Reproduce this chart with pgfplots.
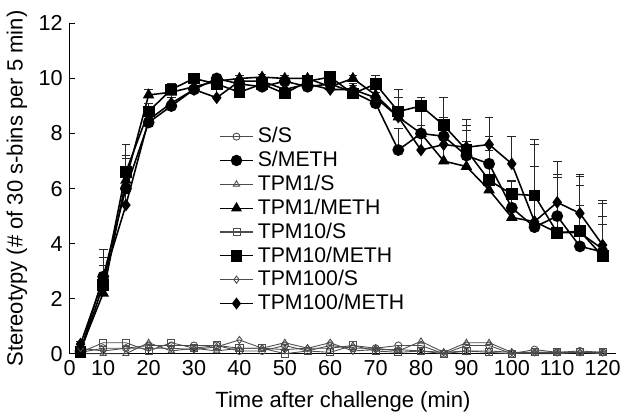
\documentclass[border=0pt]{standalone}
\usepackage{fontspec}
\setmainfont{Liberation Sans}
\usepackage{pgfplots}
\pgfplotsset{compat=1.18}
\usepackage{pgfplotstable}

% saline challenge groups (t, mean)
\pgfplotstableread{
t y
5 0.05
10 0.2
15 0.2
20 0.3
25 0.3
30 0.3
35 0.3
40 0.1
45 0.1
50 0.3
55 0.1
60 0.3
65 0.2
70 0.2
75 0.3
80 0.3
85 0.0
90 0.3
95 0.3
100 0.0
105 0.15
110 0.05
115 0.1
120 0.05
}\SS
\pgfplotstableread{
t y
5 0.0
10 0.0
15 0.0
20 0.4
25 0.1
30 0.2
35 0.1
40 0.2
45 0.2
50 0.4
55 0.2
60 0.2
65 0.3
70 0.2
75 0.1
80 0.45
85 0.05
90 0.4
95 0.4
100 0.05
105 0.0
110 0.0
115 0.05
120 0.0
}\TaS
\pgfplotstableread{
t y
5 0.05
10 0.4
15 0.4
20 0.1
25 0.4
30 0.2
35 0.3
40 0.2
45 0.2
50 0.0
55 0.1
60 0.05
65 0.3
70 0.1
75 0.05
80 0.1
85 0.0
90 0.1
95 0.05
100 0.0
105 0.05
110 0.05
115 0.05
120 0.05
}\TbS
\pgfplotstableread{
t y
5 0.2
10 0.1
15 0.2
20 0.2
25 0.2
30 0.15
35 0.25
40 0.5
45 0.2
50 0.15
55 0.2
60 0.4
65 0.1
70 0.15
75 0.15
80 0.1
85 0.05
90 0.1
95 0.1
100 0.05
105 0.05
110 0.05
115 0.05
120 0.05
}\TcS

% METH challenge groups (t, mean, +SEM)
\pgfplotstableread{
t y e
5 0.1 0.1
10 2.8 1.0
15 6.0 1.1
20 8.4 0.3
25 9.0 0.3
30 9.6 0.2
35 10.0 0.1
40 9.8 0.2
45 9.7 0.2
50 9.9 0.1
55 9.7 0.2
60 9.8 0.2
65 9.5 0.3
70 9.1 0.4
75 7.4 0.8
80 8.0 0.8
85 7.9 0.7
90 7.2 0.9
95 6.9 1.0
100 5.3 1.0
105 4.6 2.2
110 5.0 1.5
115 3.9 2.2
120 3.7 1.3
}\SM
\pgfplotstableread{
t y e
5 0.15 0.1
10 2.2 1.0
15 6.3 0.9
20 9.4 0.2
25 9.5 0.2
30 9.7 0.2
35 9.9 0.1
40 10.0 0.1
45 10.05 0.1
50 10.0 0.1
55 10.0 0.1
60 9.7 0.2
65 10.0 0.1
70 9.4 0.4
75 8.6 0.7
80 8.0 0.9
85 7.0 0.9
90 6.8 0.9
95 5.95 0.9
100 4.95 1.3
105 4.8 1.0
110 4.4 1.1
115 4.4 1.0
120 3.8 0.9
}\TaM
\pgfplotstableread{
t y e
5 0.05 0.1
10 2.5 0.7
15 6.6 1.0
20 8.8 0.3
25 9.6 0.2
30 10.0 0.1
35 9.8 0.2
40 9.5 0.2
45 9.8 0.2
50 9.45 0.2
55 9.9 0.1
60 10.05 0.1
65 9.45 0.3
70 9.8 0.3
75 8.8 0.8
80 9.0 0.3
85 8.3 1.0
90 7.4 0.9
95 6.3 1.07
100 5.8 0.5
105 5.75 2.05
110 4.4 2.0
115 4.45 2.0
120 3.55 1.9
}\TbM
\pgfplotstableread{
t y e
5 0.35 0.1
10 2.7 0.8
15 5.4 1.2
20 8.5 0.3
25 9.1 0.3
30 9.6 0.2
35 9.3 0.3
40 9.9 0.1
45 9.9 0.1
50 9.6 0.2
55 9.8 0.2
60 9.6 0.2
65 9.6 0.2
70 9.3 0.4
75 8.6 0.7
80 7.4 0.9
85 7.6 0.8
90 7.5 1.0
95 7.6 1.0
100 6.9 1.0
105 4.8 2.8
110 5.5 1.5
115 5.1 1.4
120 3.95 1.6
}\TcM

\begin{document}
\begin{tikzpicture}
\begin{axis}[
  scale only axis,
  width=278pt, height=168pt,
  xmin=2.6, xmax=123, ymin=0, ymax=12,
  axis x line*=bottom, axis y line*=left,
  axis line style={line width=0.7pt},
  xtick={2.6,10,20,30,40,50,60,70,80,90,100,110,120},
  xticklabels={0,10,20,30,40,50,60,70,80,90,100,110,120},
  ytick={0,2,4,6,8,10,12},
  tick align=inside, major tick length=2.8pt,
  tick style={line width=0.6pt, black},
  /pgf/number format/assume math mode=true,
  tick label style={font=\fontsize{11}{13}\selectfont},
  label style={font=\fontsize{11.2}{13}\selectfont},
  xlabel={Time after challenge (min)},
  ylabel={Stereotypy (\# of 30 s-bins per 5 min)},
  xlabel style={yshift=-1pt},
  ylabel style={yshift=-1pt},
  clip=false,
  legend cell align=left,
  legend style={draw=none, fill=none, at={(rel axis cs:0.262,0.71)}, anchor=north west,
    font=\fontsize{10.8}{12.5}\selectfont, row sep=-1.2pt},
  legend image post style={line width=0.6pt},
  sal/.style={black!70, line width=0.45pt, mark size=1.8pt, mark options={fill=white, solid, line width=0.45pt}},
  meth/.style={black, line width=0.8pt, mark size=2.6pt, mark options={fill=black, solid},
    error bars/y dir=plus, error bars/y explicit,
    error bars/error bar style={line width=0.5pt, black!85},
    error bars/error mark options={rotate=90, mark size=2.2pt, line width=0.5pt}},
]
\addplot[sal, mark=o] table[x=t, y=y] {\SS};
\addplot[meth, mark=*] table[x=t, y=y, y error=e] {\SM};
\addplot[sal, mark=triangle] table[x=t, y=y] {\TaS};
\addplot[meth, mark=triangle*] table[x=t, y=y, y error=e] {\TaM};
\addplot[sal, mark=square] table[x=t, y=y] {\TbS};
\addplot[meth, mark=square*] table[x=t, y=y, y error=e] {\TbM};
\addplot[sal, mark=diamond] table[x=t, y=y] {\TcS};
\addplot[meth, mark=diamond*] table[x=t, y=y, y error=e] {\TcM};
\legend{S/S, S/METH, TPM1/S, TPM1/METH, TPM10/S, TPM10/METH, TPM100/S, TPM100/METH}
\end{axis}
\path (current bounding box.north east) ++(6pt,2pt);
\end{tikzpicture}
\end{document}
